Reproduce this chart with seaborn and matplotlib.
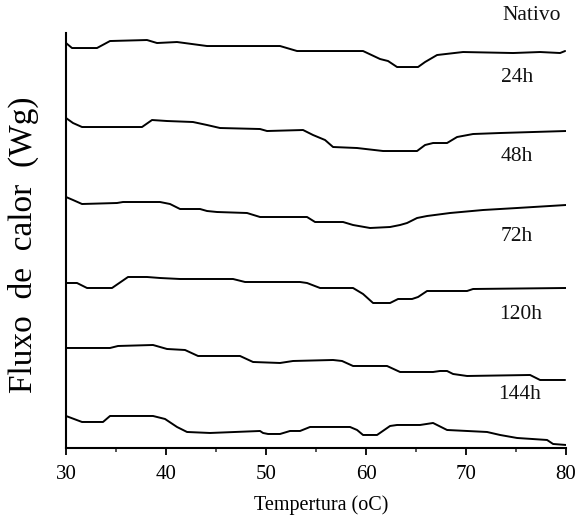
import numpy as np
import pandas as pd
import matplotlib
matplotlib.use("Agg")
import matplotlib.pyplot as plt
import seaborn as sns
from matplotlib.ticker import MultipleLocator

# DSC curves, stacked (arbitrary heat-flow units, endothermic down)
samples = ['Nativo', '24h', '48h', '72h', '120h', '144h']

t_nativo = [30.0, 30.6, 33.1, 34.4, 38.1, 39.1, 41.1, 44.1, 51.4, 53.1, 55.4, 59.7, 61.4, 62.2,
            63.1, 65.2, 65.9, 67.1, 69.7, 74.7, 77.4, 79.4, 79.9]
q_nativo = [405, 400, 400, 407, 408, 405, 406, 402, 402, 397, 397, 397, 389, 387,
            381, 381, 386, 393, 396, 395, 396, 395, 397]

t_24h = [30.0, 30.7, 31.6, 37.6, 38.6, 40.1, 42.7, 44.1, 45.4, 49.4, 50.1, 53.7, 54.7, 55.9,
         56.7, 59.1, 61.7, 65.1, 65.9, 66.7, 68.1, 69.1, 70.7, 73.4, 76.7, 80.0]
q_24h = [330, 325, 321, 321, 328, 327, 326, 323, 320, 319, 317, 318, 313, 308,
         301, 300, 297, 297, 303, 305, 305, 311, 314, 315, 316, 317]

t_48h = [30.0, 30.7, 31.6, 35.1, 35.7, 39.4, 40.4, 41.4, 43.4, 44.1, 45.1, 48.1, 49.4, 54.1,
         54.9, 57.7, 58.7, 60.4, 62.4, 63.4, 64.1, 65.1, 66.1, 68.4, 71.7, 75.1, 80.0]
q_48h = [251, 248, 244, 245, 246, 246, 244, 239, 239, 237, 236, 235, 231, 231,
         226, 226, 223, 220, 221, 223, 225, 230, 232, 235, 238, 240, 243]

t_72h = [30.0, 31.1, 32.1, 34.6, 36.2, 38.1, 39.4, 41.4, 44.1, 46.7, 47.9, 53.4, 54.1, 55.4,
         58.7, 59.7, 60.7, 62.4, 63.2, 64.6, 65.2, 66.1, 70.1, 70.7, 80.0]
q_72h = [165, 165, 160, 160, 171, 171, 170, 169, 169, 169, 166, 166, 165, 160,
         160, 154, 145, 145, 149, 149, 151, 157, 157, 159, 160]

t_120h = [30.1, 34.4, 35.2, 38.7, 40.1, 41.9, 43.2, 47.4, 48.7, 51.4, 52.7, 56.7, 57.6, 58.7,
          62.1, 63.4, 66.7, 67.4, 68.1, 68.7, 70.1, 76.4, 77.4, 79.9]
q_120h = [100, 100, 102, 103, 99, 98, 92, 92, 86, 85, 87, 88, 87, 82,
          82, 76, 76, 77, 77, 74, 72, 73, 68, 68]

t_144h = [30.0, 31.6, 33.7, 34.4, 38.7, 39.9, 41.1, 42.1, 44.4, 49.4, 49.7, 50.2, 51.4, 52.4,
          53.4, 54.4, 58.4, 59.1, 59.7, 61.1, 62.4, 63.1, 65.4, 66.7, 68.1, 72.1, 73.4, 75.1,
          78.1, 78.7, 80.0]
q_144h = [32, 26, 26, 32, 32, 29, 21, 16, 15, 17, 15, 14, 14, 17,
          17, 21, 21, 18, 13, 13, 22, 23, 23, 25, 18, 16, 13, 10,
          8, 4, 3]

temps = [t_nativo, t_24h, t_48h, t_72h, t_120h, t_144h]
flows = [q_nativo, q_24h, q_48h, q_72h, q_120h, q_144h]

rows = []
for name, t, q in zip(samples, temps, flows):
    for a, b in zip(t, q):
        rows.append((name, a, b))
df = pd.DataFrame(rows, columns=['amostra', 'temp', 'fluxo'])

sns.set_theme(style="ticks")
plt.rcParams['font.family'] = ['Liberation Serif', 'DejaVu Serif']

fig = plt.figure(figsize=(5.8, 5.2), dpi=100)
ax = fig.add_axes([0.1138, 0.1385, 0.8622, 0.798])

for name in samples:
    sub = df[df.amostra == name]
    sns.lineplot(data=sub, x='temp', y='fluxo', color='black', linewidth=1.4,
                 ax=ax, estimator=None, sort=False)

# curve labels (x, y in data coords)
label_pos = [(76.6, 433), (75.1, 371), (75.1, 292), (75.1, 212), (75.5, 133), (75.4, 53)]
for name, (lx, ly) in zip(samples, label_pos):
    ax.text(lx, ly, name, ha='center', va='center', fontsize=15.5, color='#111111', clip_on=False)

ax.set_xlim(30, 80)
ax.set_ylim(0, 415)
ax.xaxis.set_major_locator(MultipleLocator(10))
ax.xaxis.set_minor_locator(MultipleLocator(5))
ax.set_yticks([])
ax.tick_params(axis='x', which='major', length=5, width=1.3, direction='out', labelsize=15,
               pad=7, colors='black')
ax.tick_params(axis='x', which='minor', length=3, width=1.1, direction='out')
for s in ['top', 'right']:
    ax.spines[s].set_visible(False)
for s in ['left', 'bottom']:
    ax.spines[s].set_linewidth(1.5)
    ax.spines[s].set_color('black')

ax.set_xlabel('Tempertura (oC)', fontsize=14.5, color='black')
ax.xaxis.set_label_coords(0.51, -0.113)
ax.set_ylabel('Fluxo  de  calor  (Wg)', fontsize=24, color='black')
ax.yaxis.set_label_coords(-0.054, 0.49)

fig.savefig('out.png', dpi=100, facecolor='white')
